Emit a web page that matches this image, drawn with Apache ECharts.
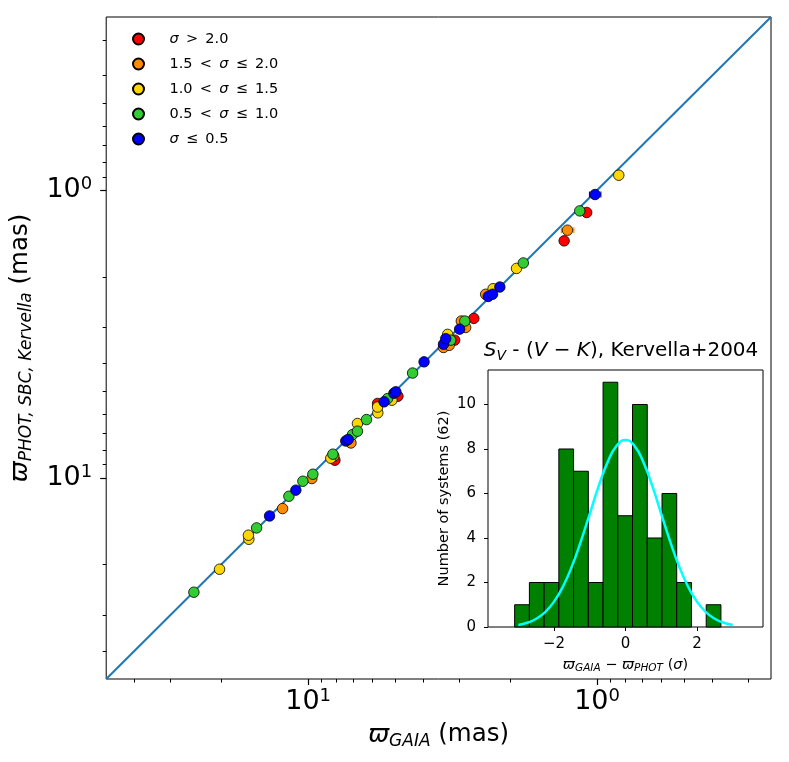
<!DOCTYPE html>
<html><head><meta charset="utf-8">
<script src="https://cdn.jsdelivr.net/npm/echarts@6/dist/echarts.min.js"></script>
<style>html,body{margin:0;padding:0;background:#fff}#c{width:789px;height:762px}</style>
</head><body><div id="c"></div>
<script>
// ---- data: [varpi_GAIA, varpi_PHOT, optional GAIA error] (mas)
const sigmaGt2 = [[8.08,8.68],[5.75,5.51],[4.89,5.20],[3.11,3.32],[2.67,2.79],[1.30,1.50],[1.086,1.195]];
const sigma15to20 = [[12.26,12.78],[9.71,10.05],[8.15,8.40],[7.11,7.56],[3.40,3.52],[3.25,3.46],[2.85,3.00],[2.95,2.85],[2.43,2.30],[1.266,1.377,0.063]];
const sigma10to15 = [[20.26,20.77],[16.04,16.34],[16.1,15.82],[8.35,8.54],[6.75,6.47],[5.74,5.94],[5.75,5.67],[5.13,5.37],[3.29,3.17],[2.29,2.20],[1.90,1.87],[0.841,0.887]];
const sigma05to10 = [[24.86,24.96],[15.08,14.92],[11.66,11.58],[10.43,10.27],[9.63,9.71],[8.21,8.27],[7.02,7.07],[6.75,6.88],[6.28,6.27],[5.31,5.30],[4.35,4.32],[3.21,3.32],[2.87,2.85],[1.80,1.79],[1.148,1.18]];
const sigmaLe05 = [[13.60,13.56],[11.03,11.03],[7.41,7.44],[7.27,7.35],[5.46,5.44],[5.05,5.08],[4.97,5.02],[3.97,3.95],[3.40,3.43],[3.34,3.28],[2.99,3.04],[2.38,2.34],[2.30,2.30],[2.17,2.17],[1.016,1.035,0.046]];
const groupNames = ['σ > 2.0','1.5 < σ ≤ 2.0','1.0 < σ ≤ 1.5','0.5 < σ ≤ 1.0','σ ≤ 0.5'];
const oneToOne = [[0.25,0.25],[50,50]];
const axisRange = [0.25, 50];
const majorTicks = [1, 10];
const minorTicks = [0.3,0.4,0.5,0.6,0.7,0.8,0.9,2,3,4,5,6,7,8,9,20,30,40];
// inset histogram
const histEdges = [-3.104,-2.691,-2.279,-1.866,-1.454,-1.041,-0.628,-0.216,0.197,0.609,1.022,1.434,1.847,2.260,2.672];
const histCounts = [1,2,2,8,7,2,11,5,10,4,6,2,0,1];
const fitX = [-3,-2.75,-2.5,-2.25,-2,-1.75,-1.5,-1.25,-1,-0.75,-0.5,-0.25,0,0.25,0.5,0.75,1,1.25,1.5,1.75,2,2.25,2.5,2.75,3];
const fitY = [0.09,0.19,0.37,0.67,1.14,1.82,2.73,3.85,5.09,6.34,7.41,8.14,8.40,8.14,7.41,6.34,5.09,3.85,2.73,1.82,1.14,0.67,0.37,0.19,0.09];
const insetXRange = [-3.85, 3.85];
const insetYRange = [0, 11.55];
const insetXTicks = [-2, 0, 2];
const insetYTicks = [0, 2, 4, 6, 8, 10];

const colors = ['#ff0000','#ff8c00','#ffd700','#32cd32','#0000ff'];
const groups = [sigmaGt2, sigma15to20, sigma10to15, sigma05to10, sigmaLe05];
const F = 'DejaVu Sans';
const L = Math.log10;

const chart = echarts.init(document.getElementById('c'), null, {renderer: 'canvas'});

const tickRich = {
  b: {fontSize: 27, fontFamily: F, color: '#000', lineHeight: 30},
  s: {fontSize: 18, fontFamily: F, color: '#000', lineHeight: 16, verticalAlign: 'top'}
};
const majorFmt = v => '{b|10}{s|' + Math.round(v) + '}';

function tickAxis(dim, extra) {
  return Object.assign({
    type: 'value', gridIndex: 0, min: L(axisRange[0]), max: L(axisRange[1]), inverse: true,
    position: dim === 'x' ? 'bottom' : 'left',
    axisLine: {show: false, onZero: false}, splitLine: {show: false}
  }, extra);
}

const series = [];
series.push({
  type: 'line', xAxisIndex: 0, yAxisIndex: 0, data: oneToOne, showSymbol: false, silent: true,
  lineStyle: {color: '#1f77b4', width: 2}, z: 1
});
groups.forEach((g, i) => {
  series.push({
    type: 'custom', name: 'err' + i, xAxisIndex: 0, yAxisIndex: 0, z: 2, silent: true,
    data: g.filter(d => d[2]),
    encode: {x: 0, y: 1},
    renderItem: (params, api) => {
      const x = api.value(0), y = api.value(1), e = api.value(2);
      const a = api.coord([x - e, y]), b = api.coord([x + e, y]);
      const st = {stroke: colors[i], lineWidth: 1.2};
      return {type: 'group', children: [
        {type: 'line', shape: {x1: a[0], y1: a[1], x2: b[0], y2: b[1]}, style: st},
        {type: 'line', shape: {x1: a[0], y1: a[1] - 3, x2: a[0], y2: a[1] + 3}, style: st},
        {type: 'line', shape: {x1: b[0], y1: b[1] - 3, x2: b[0], y2: b[1] + 3}, style: st}
      ]};
    }
  });
});
groups.forEach((g, i) => {
  series.push({
    type: 'scatter', name: groupNames[i], xAxisIndex: 0, yAxisIndex: 0, z: 3,
    data: g.map(d => [d[0], d[1]]), symbol: 'circle', symbolSize: 10.5,
    itemStyle: {color: colors[i], borderColor: '#000', borderWidth: 0.8, opacity: 1}
  });
});
series.push({
  type: 'custom', xAxisIndex: 3, yAxisIndex: 3, z: 2, silent: true,
  data: histCounts.map((c, i) => [histEdges[i], histEdges[i + 1], c]),
  encode: {x: [0, 1], y: 2},
  renderItem: (params, api) => {
    if (!api.value(2)) return null;
    const p0 = api.coord([api.value(0), 0]);
    const p1 = api.coord([api.value(1), api.value(2)]);
    return {type: 'rect', shape: {x: p0[0], y: p1[1], width: p1[0] - p0[0], height: p0[1] - p1[1]},
      style: {fill: '#008000', stroke: '#000', lineWidth: 1}};
  }
});
series.push({
  type: 'line', xAxisIndex: 3, yAxisIndex: 3, z: 3, silent: true, smooth: true, showSymbol: false,
  data: fitX.map((x, i) => [x, fitY[i]]), lineStyle: {color: '#00ffff', width: 2.5}
});

const smallRich = {
  v: {fontSize: 14.5, fontFamily: F, fontStyle: 'italic', color: '#000', lineHeight: 18},
  sub: {fontSize: 10.5, fontFamily: F, fontStyle: 'italic', color: '#000', lineHeight: 10, verticalAlign: 'bottom'},
  n: {fontSize: 14.5, fontFamily: F, color: '#000', lineHeight: 18}
};
const bigName = {
  v: {fontSize: 25, fontFamily: F, fontStyle: 'italic', color: '#000', lineHeight: 30},
  sub: {fontSize: 17, fontFamily: F, fontStyle: 'italic', color: '#000', lineHeight: 14, verticalAlign: 'bottom'},
  n: {fontSize: 24.5, fontFamily: F, color: '#000', lineHeight: 30}
};

const option = {
  animation: false,
  backgroundColor: '#fff',
  title: {
    text: '{i|S}{sub|V}{n| - (}{i|V}{n| − }{i|K}{n|), Kervella+2004}',
    left: 621, top: 339, textAlign: 'center', padding: 0,
    textStyle: {fontWeight: 'normal', rich: {
      i: {fontSize: 20, fontFamily: F, fontStyle: 'italic', fontWeight: 'normal', color: '#000', lineHeight: 24},
      sub: {fontSize: 14, fontFamily: F, fontStyle: 'italic', fontWeight: 'normal', color: '#000', lineHeight: 14, verticalAlign: 'bottom'},
      n: {fontSize: 20, fontFamily: F, fontWeight: 'normal', color: '#000', lineHeight: 24}
    }}
  },
  legend: {
    data: groupNames, orient: 'vertical', left: 132, top: 31, padding: 0,
    itemWidth: 52, itemHeight: 11, itemGap: 9, icon: 'circle',
    formatter: n => n.replace('σ', '{i|σ}').replace(/ /g, '\u2002'),
    textStyle: {fontSize: 14.5, fontFamily: F, color: '#000', lineHeight: 16,
      rich: {i: {fontSize: 14.5, fontFamily: F, fontStyle: 'italic', color: '#000', lineHeight: 16}}},
    selectedMode: false
  },
  grid: [
    {left: 105, top: 17, width: 666, height: 662, show: true, borderColor: '#000', borderWidth: 1, backgroundColor: 'transparent'},
    {left: 488, top: 370, width: 275, height: 257, show: true, borderColor: '#000', borderWidth: 1, backgroundColor: '#fff'}
  ],
  xAxis: [
    {type: 'log', logBase: 10, gridIndex: 0, min: axisRange[0], max: axisRange[1], inverse: true, show: false},
    tickAxis('x', {
      axisTick: {show: true, customValues: majorTicks.map(L), length: 6, lineStyle: {color: '#000', width: 1.2}},
      axisLabel: {show: true, customValues: majorTicks.map(L), formatter: majorFmt, margin: 8, rich: tickRich},
      name: '{v|ϖ}{sub|GAIA}{n| (mas)}', nameLocation: 'middle', nameGap: 41,
      nameTextStyle: {rich: bigName}
    }),
    tickAxis('x', {
      axisTick: {show: true, customValues: minorTicks.map(L), length: 3.5, lineStyle: {color: '#000', width: 1}},
      axisLabel: {show: false}
    }),
    {type: 'value', gridIndex: 1, min: insetXRange[0], max: insetXRange[1], position: 'bottom',
      axisLine: {show: false, onZero: false}, splitLine: {show: false},
      axisTick: {show: true, customValues: insetXTicks, length: 4, lineStyle: {color: '#000', width: 1}},
      axisLabel: {show: true, customValues: insetXTicks, margin: 10, fontSize: 15, fontFamily: F, color: '#000',
        formatter: v => v < 0 ? '−' + Math.abs(v) : String(v)},
      name: '{v|ϖ}{sub|GAIA}{n| − }{v|ϖ}{sub|PHOT}{n| (}{v|σ}{n|)}', nameLocation: 'middle', nameGap: 29,
      nameTextStyle: {rich: smallRich}
    }
  ],
  yAxis: [
    {type: 'log', logBase: 10, gridIndex: 0, min: axisRange[0], max: axisRange[1], inverse: true, show: false},
    tickAxis('y', {
      axisTick: {show: true, customValues: majorTicks.map(L), length: 6, lineStyle: {color: '#000', width: 1.2}},
      axisLabel: {show: true, customValues: majorTicks.map(L), formatter: majorFmt, margin: 14, rich: tickRich},
      name: '{v|ϖ}{sub|PHOT, SBC, Kervella}{n| (mas)}', nameLocation: 'middle', nameGap: 64, nameRotate: 90,
      nameTextStyle: {rich: bigName}
    }),
    tickAxis('y', {
      axisTick: {show: true, customValues: minorTicks.map(L), length: 3.5, lineStyle: {color: '#000', width: 1}},
      axisLabel: {show: false}
    }),
    {type: 'value', gridIndex: 1, min: insetYRange[0], max: insetYRange[1], position: 'left',
      axisLine: {show: false, onZero: false}, splitLine: {show: false},
      axisTick: {show: true, customValues: insetYTicks, length: 4, lineStyle: {color: '#000', width: 1}},
      axisLabel: {show: true, customValues: insetYTicks, margin: 12, fontSize: 15, fontFamily: F, color: '#000'},
      name: 'Number of systems (62)', nameLocation: 'middle', nameGap: 36, nameRotate: 90,
      nameTextStyle: {fontSize: 14.5, fontFamily: F, color: '#000'}
    }
  ],
  series: series
};
chart.setOption(option);
</script>
</body></html>
